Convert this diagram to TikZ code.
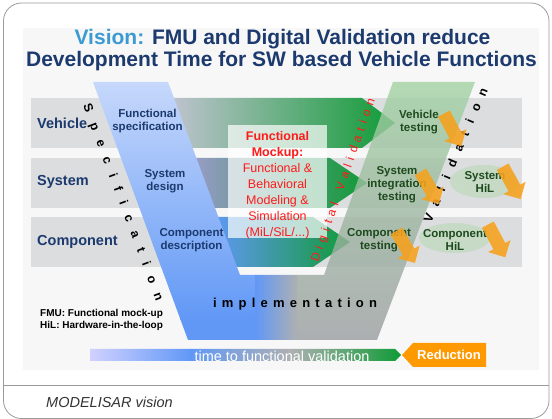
\documentclass[tikz,border=0pt]{standalone}
\usepackage{fontspec}
\setmainfont{Liberation Sans}
\usetikzlibrary{shapes.arrows,shapes.geometric,decorations.text}

\definecolor{titleblue}{HTML}{1C3A6E}
\definecolor{visionblue}{HTML}{3C9AD2}
\definecolor{bandgrey}{HTML}{DCDDDF}
\definecolor{armlight}{HTML}{C6D8FB}
\definecolor{armblue}{HTML}{6198F6}
\definecolor{armgreen}{HTML}{A2D3A2}
\definecolor{armmid}{HTML}{A2B2A4}
\definecolor{armgrey}{HTML}{9A9DA0}
\definecolor{midgrey}{HTML}{AEB0B2}
\definecolor{valgreen}{HTML}{109B36}
\definecolor{testgreen}{HTML}{1E4A1E}
\definecolor{hilfill}{HTML}{C6DAC6}
\definecolor{arroworange}{HTML}{F6A11C}
\definecolor{redorange}{HTML}{FF9900}
\definecolor{mockred}{HTML}{FF1A1A}
\definecolor{framegrey}{HTML}{9A9A9A}

\begin{document}
\begin{tikzpicture}[x=1pt,y=-1pt]
    % Basic styles
    \tikzset{
        rowlabel/.style={anchor=base west, inner sep=0pt, text=titleblue,
            font=\fontsize{14.5}{16}\selectfont\bfseries},
        speclabel/.style={align=center, inner sep=0pt, text=titleblue,
            font=\fontsize{11.5}{13}\selectfont\bfseries},
        testlabel/.style={align=center, inner sep=0pt, text=testgreen,
            font=\fontsize{11.5}{13}\selectfont\bfseries},
        hil/.style={ellipse, fill=hilfill, inner sep=0pt},
        orangearrow/.style={single arrow, fill=arroworange, opacity=0.88,
            minimum height=37pt, inner sep=6.5pt, single arrow head extend=6pt},
        band/.style={fill=bandgrey},
        legend/.style={anchor=base west, inner sep=0pt,
            font=\fontsize{10}{12}\selectfont\bfseries}
    }
    \useasboundingbox (0,0) rectangle (552,419);

    % Frame and background
    \draw[framegrey, rounded corners=18pt, line width=0.8pt] (3.5,3) rectangle (549,418.5);
    \draw[framegrey, line width=0.8pt] (3.5,385) -- (549,385);
    \fill[black!3] (23,28) rectangle (539,370);

    % Title
    \node[anchor=base, inner sep=0pt, text=titleblue, font=\fontsize{21}{24}\selectfont\bfseries]
        (title1) at (282.5,45) {\textcolor{visionblue}{Vision:} FMU and Digital Validation reduce};
    \node[anchor=base, inner sep=0pt, text=titleblue, font=\fontsize{21}{24}\selectfont\bfseries]
        (title2) at (281.5,67) {Development Time for SW based Vehicle Functions};

    % Rows (grey)
    \fill[band] (31,98) rectangle (522,148);
    \fill[band] (31,158) rectangle (522,208);
    \fill[band] (31,217) rectangle (522,267);

    % Digital validation arrows (green)
    \shade[left color=black!5!blue!15!gray!40, right color=valgreen]
        (165,98) -- (362,98) -- (395,123) -- (362,148) -- (165,148) -- cycle;
    \shade[left color=blue!30!gray!60, right color=valgreen]
        (190,158) -- (330,158) -- (367,183) -- (330,208) -- (190,208) -- cycle;
    \shade[left color=armblue, right color=valgreen]
        (212,217) -- (313,217) -- (350,242) -- (313,267) -- (212,267) -- cycle;

    % The V
    \begin{scope}
        \clip (93,82) -- (168,82) -- (240,275) -- (324,275) -- (393,82) -- (475,82)
            -- (377,340) -- (188,340) -- cycle;
        \shade[top color=armlight, bottom color=armblue] (80,82) rectangle (256,320);
        \fill[armblue] (80,319.5) rectangle (256,341);
        \shade[left color=armblue, right color=midgrey] (255.5,270) rectangle (297,341);
        \shade[top color=armgreen, middle color=armmid, bottom color=armgrey, opacity=0.8]
            (297,82) rectangle (480,341);
    \end{scope}

    % Functional mockup
    \node[fill=white, opacity=0.7, minimum width=99pt, minimum height=113pt, inner sep=0pt]
        (mockbox) at (277.5,181.5) {};
    \node[align=center, inner sep=0pt, text=mockred, font=\fontsize{12.5}{16}\selectfont]
        (mocktext) at (277.5,185) {\textbf{Functional}\\\textbf{Mockup:}\\Functional \&\\Behavioral\\Modeling \&\\Simulation\\(MiL/SiL/...)};

    % Specification side
    \node[rowlabel] (vehicle) at (37,129) {Vehicle};
    \node[rowlabel] (system) at (37,186) {System};
    \node[rowlabel] (component) at (37,246) {Component};
    \node[speclabel] (funcspec) at (147.5,121) {Functional\\specification};
    \node[speclabel] (sysdesign) at (165,181) {System\\design};
    \node[speclabel] (compdesc) at (191.5,240) {Component\\description};

    % Validation side
    \node[testlabel] (vehtest) at (419,122) {Vehicle\\testing};
    \node[testlabel] (systest) at (397,185) {System\\integration\\testing};
    \node[testlabel] (comptest) at (379,240) {Component\\testing};
    \node[hil, minimum width=68pt, minimum height=33pt] (syshil) at (484,181.5) {};
    \node[testlabel] (syshiltext) at (485,182) {System\\HiL};
    \node[hil, minimum width=71pt, minimum height=30pt] (comphil) at (454.5,238) {};
    \node[testlabel] (comphiltext) at (455,239.5) {Component\\HiL};

    % Letter-spaced texts
    \coordinate (specA) at (83,106);
    \coordinate (specB) at (156,302);
    \coordinate (valA) at (431,224);
    \coordinate (valB) at (488,90);
    \coordinate (digA) at (318,263);
    \coordinate (digB) at (375,100);
    \coordinate (implA) at (213,308);
    \coordinate (implB) at (377,308);
    \path[decorate, decoration={text along path, text align=fit to path,
        text={|\fontsize{12.5}{12.5}\selectfont\bfseries|Specification}}] (specA) -- (specB);
    \path[decorate, decoration={text along path, text align=fit to path,
        text={|\fontsize{12.5}{12.5}\selectfont\bfseries|Validation}}] (valA) -- (valB);
    \path[decorate, decoration={text along path, text align=fit to path, text color=mockred,
        text={|\fontsize{12}{12}\selectfont|Digital Validation}}] (digA) -- (digB);
    \path[decorate, decoration={text along path, text align=fit to path,
        text={|\fontsize{13}{13}\selectfont\bfseries|implementation}}] (implA) -- (implB);

    % Orange arrows
    \node[orangearrow, rotate=-62] (arrveh) at (451,127) {};
    \node[orangearrow, rotate=-60] (arrsys) at (428,185) {};
    \node[orangearrow, rotate=-61] (arrsyshil) at (510,180) {};
    \node[orangearrow, rotate=-60] (arrcomp) at (404,244) {};
    \node[orangearrow, rotate=-62] (arrcomphil) at (495,238) {};

    % Time bar
    \begin{scope}
        \clip (90,349) -- (395,349) -- (401,355) -- (395,361) -- (90,361) -- cycle;
        \shade[left color=blue!18, right color=armblue] (90,349) rectangle (190.5,361);
        \shade[left color=armblue, right color=midgrey] (190,349) rectangle (290.5,361);
        \shade[left color=midgrey, right color=valgreen] (290,349) rectangle (401,361);
        \node[anchor=base, inner sep=0pt, text=white, font=\fontsize{14.5}{16}\selectfont]
            (timetext) at (282,362) {time to functional validation};
    \end{scope}
    \fill[redorange] (402,355) -- (413,343) -- (486,343) -- (486,367) -- (413,367) -- cycle;
    \node[text=white, inner sep=0pt, font=\fontsize{13}{15}\selectfont\bfseries]
        (reduction) at (449,355) {Reduction};

    % Legend and footer
    \node[legend] (legfmu) at (40,317) {FMU: Functional mock-up};
    \node[legend] (leghil) at (40,329) {HiL: Hardware-in-the-loop};
    \node[anchor=base west, inner sep=0pt, text=black!80, font=\fontsize{14.5}{16}\selectfont\itshape]
        (footer) at (46,408) {MODELISAR vision};
\end{tikzpicture}
\end{document}
